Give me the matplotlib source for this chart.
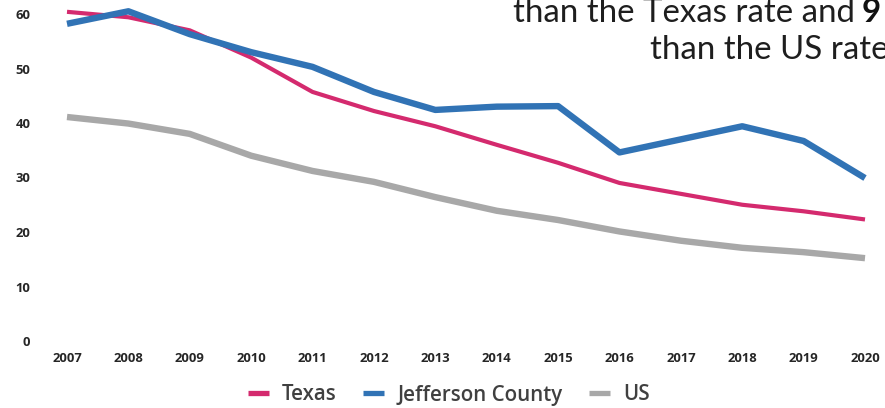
import matplotlib
matplotlib.use('Agg')
import matplotlib.pyplot as plt
from matplotlib.lines import Line2D

years = list(range(2007, 2021))
texas = [60.4, 59.4, 57.0, 52.0, 45.7, 42.2, 39.4, 36.0, 32.7, 29.0, 27.0, 25.0, 23.8, 22.3]
jefferson = [58.2, 60.5, 56.3, 53.0, 50.3, 45.7, 42.4, 43.0, 43.1, 34.6, 37.0, 39.4, 36.7, 29.9]
us = [41.1, 39.9, 38.0, 34.0, 31.2, 29.2, 26.4, 23.9, 22.2, 20.1, 18.4, 17.1, 16.3, 15.2]
yticks = [0, 10, 20, 30, 40, 50, 60]
series_names = ["Texas", "Jefferson County", "US"]

pink = "#D42A6E"
blue = "#3173B5"
gray = "#A8A8A8"

fig = plt.figure(figsize=(8.85, 4.08), dpi=100)
# axes box set in pixels so the year ticks land where the reference has them
ax = fig.add_axes([40 / 885, (408 - 341) / 408, 845 / 885, 341 / 408])
ax.plot(years, texas, color=pink, linewidth=3.0, solid_capstyle="butt")
ax.plot(years, jefferson, color=blue, linewidth=4.6, solid_capstyle="butt")
ax.plot(years, us, color=gray, linewidth=4.6, solid_capstyle="butt")

ax.set_xlim(2007 - 27 / 61.38, 2020 + 20 / 61.38)
ax.set_ylim(0, 341 / 5.45)
ax.set_xticks(years)
ax.set_xticklabels([str(y) for y in years])
ax.set_yticks(yticks)
for s in ax.spines.values():
    s.set_visible(False)
ax.tick_params(length=0)
ax.tick_params(axis="x", pad=8)
ax.tick_params(axis="y", pad=7)
for lab in ax.get_xticklabels() + ax.get_yticklabels():
    lab.set_fontfamily("Open Sans")
    lab.set_fontweight("bold")
    lab.set_fontsize(9.4)
    lab.set_color("#262626")

handles = [Line2D([0], [0], color=c, linewidth=3.8, solid_capstyle="butt") for c in (pink, blue, gray)]
leg = fig.legend(handles, series_names, loc="center", bbox_to_anchor=(449 / 885, 1 - 395 / 408),
                 ncol=3, frameon=False, handlelength=1.0, columnspacing=1.3, handletextpad=0.65,
                 prop={"family": "Open Sans", "weight": "semibold", "size": 14.8})
for t in leg.get_texts():
    t.set_color("#404040")

# heading text that is cut off at the right edge of the reference
head = dict(family="Lato", fontweight="normal", color="#1e1e1e", va="center", ha="left")
t1 = fig.text(513 / 885, 1 - 13 / 408, "than the Texas rate and", fontsize=20, **head)
fig.canvas.draw()
w = t1.get_window_extent().width
t1.set_fontsize(20 * 342 / w)
fs = t1.get_fontsize()
fig.text(862 / 885, 1 - 13 / 408, "9", family="Lato", fontweight="bold", fontsize=fs,
         color="#111111", va="center", ha="left")
fig.text(650 / 885, 1 - 50 / 408, "than the US rate", fontsize=fs, **head)

fig.savefig("out.png", dpi=100)
